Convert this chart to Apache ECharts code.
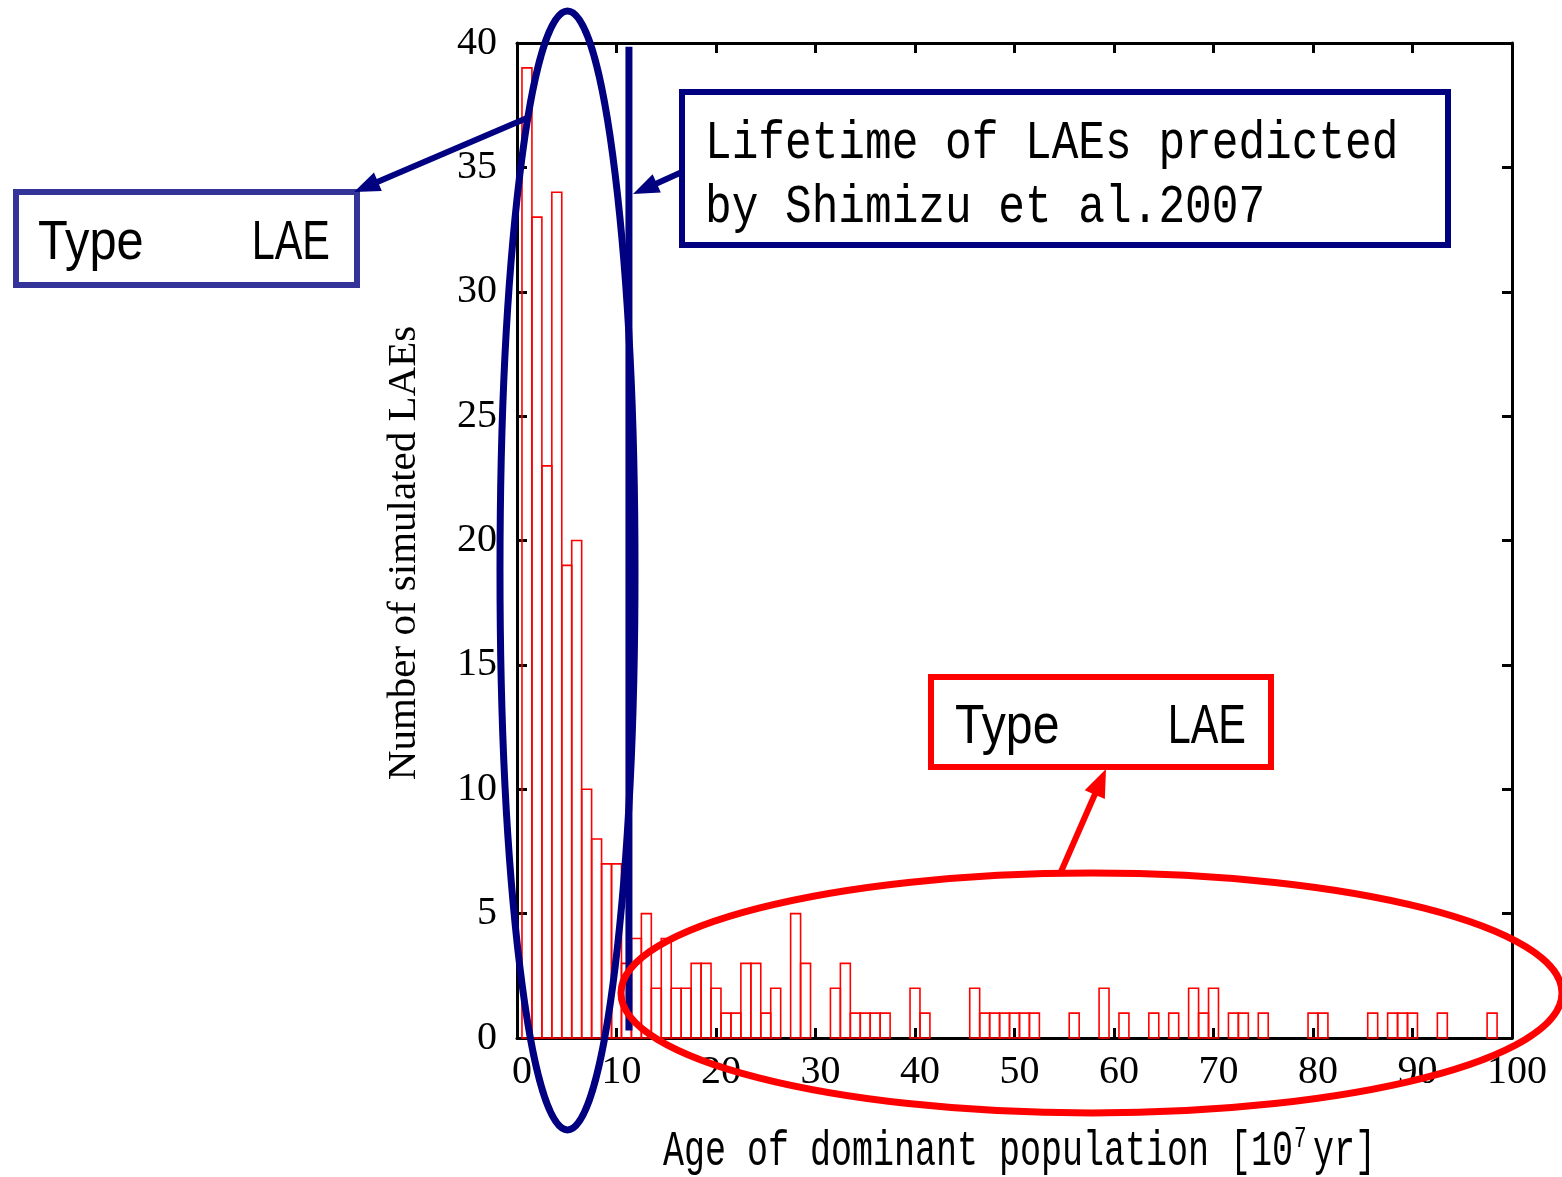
<!DOCTYPE html>
<html><head><meta charset="utf-8">
<script src="https://cdn.jsdelivr.net/npm/echarts@6/dist/echarts.min.js"></script>
<style>html,body{margin:0;padding:0;background:#fff}#c{width:1562px;height:1177px}</style>
</head><body><div id="c"></div>
<script>
// ---- data (bins of width 1, centred on integers) ----
const binCenters = [1,2,3,4,5,6,7,8,9,10,11,12,13,14,15,16,17,18,19,20,21,22,23,24,25,26,28,29,32,33,34,35,36,37,40,41,46,47,48,49,50,51,52,56,59,61,64,66,68,69,70,72,73,75,80,81,86,88,89,90,93,98];
const counts     = [39,33,23,34,19,20,10,8,7,7,3,4,5,2,4,2,2,3,3,2,1,1,3,3,1,2,5,3,2,3,1,1,1,1,2,1,2,1,1,1,1,1,1,1,2,1,1,1,2,1,2,1,1,1,1,1,1,1,1,1,1,1];
const binWidth = 1;
const xRange = [0, 100];
const xStep = 10;
const yRange = [0, 40];
const yStep = 5;
const lifetimeAge = 11.25;          // Shimizu et al. 2007 lifetime marker
const lifetimeSpan = [0.3, 39.85];
const xTitleMain = 'Age of dominant population [10';
const xTitleSup = '7';
const xTitleEnd = 'yr]';
const yTitle = 'Number of simulated LAEs';
const boxLine1 = 'Lifetime of LAEs predicted';
const boxLine2 = 'by Shimizu et al.2007';
const typeWord = 'Type';
const laeWord = 'LAE';

const NAVY = '#000080', BOXBLUE = '#333399', RED = '#ff0000';
const serif = '"Liberation Serif","Times New Roman",serif';
const mono = '"Liberation Mono","DejaVu Sans Mono",monospace';
const sans = '"Liberation Sans",Arial,sans-serif';

const chart = echarts.init(document.getElementById('c'), null, {renderer: 'canvas'});

function arrow(x1, y1, x2, y2, color, w, hl, hw) {
  const dx = x2 - x1, dy = y2 - y1, L = Math.hypot(dx, dy);
  const ux = dx / L, uy = dy / L, px = -uy, py = ux;
  const bx = x2 - ux * hl, by = y2 - uy * hl;
  return [
    {type: 'line', z: 100, shape: {x1: x1, y1: y1, x2: bx + ux * 2, y2: by + uy * 2}, style: {stroke: color, lineWidth: w}},
    {type: 'polygon', z: 100, shape: {points: [[x2, y2], [bx + px * hw / 2, by + py * hw / 2], [bx - px * hw / 2, by - py * hw / 2]]}, style: {fill: color}}
  ];
}
function txt(x, y, s, font, sx, align, color) {
  return {type: 'text', z: 101, x: x, y: y, scaleX: sx || 1,
    style: {text: s, font: font, fill: color || '#000', align: align || 'left', verticalAlign: 'middle'}};
}

const axisCommon = {
  axisLine: {onZero: false, lineStyle: {color: '#000', width: 3}},
  axisTick: {inside: true, length: 10, lineStyle: {color: '#000', width: 3}},
  splitLine: {show: false}
};

const graphics = [
  // blue ellipse around the young population
  {type: 'ellipse', z: 100, shape: {cx: 567.5, cy: 570.5, rx: 67.5, ry: 559.5}, style: {fill: 'none', stroke: NAVY, lineWidth: 7}},
  // red ellipse around the old population
  {type: 'ellipse', z: 100, shape: {cx: 1091.5, cy: 993, rx: 470.5, ry: 120}, style: {fill: 'none', stroke: RED, lineWidth: 7}},
  // left box
  {type: 'rect', z: 100, shape: {x: 16, y: 192, width: 341, height: 93}, style: {fill: '#fff', stroke: BOXBLUE, lineWidth: 6}},
  txt(38, 244, typeWord, '56px ' + sans, 0.87),
  txt(330, 244, laeWord, '56px ' + sans, 0.74, 'right'),
  // navy box
  {type: 'rect', z: 100, shape: {x: 682, y: 92, width: 766, height: 153}, style: {fill: '#fff', stroke: NAVY, lineWidth: 6}},
  txt(705, 144, boxLine1, '54px ' + mono, 0.823),
  txt(705, 208, boxLine2, '54px ' + mono, 0.823),
  // red box
  {type: 'rect', z: 100, shape: {x: 931, y: 677, width: 340, height: 90}, style: {fill: '#fff', stroke: RED, lineWidth: 6}},
  txt(955, 728, typeWord, '56px ' + sans, 0.86),
  txt(1246, 728, laeWord, '56px ' + sans, 0.74, 'right'),
  // axis titles
  txt(663, 1152, xTitleMain, '50px ' + mono, 0.70),
  txt(1294, 1139, xTitleSup, '30px ' + mono, 0.70),
  txt(1313, 1152, xTitleEnd, '50px ' + mono, 0.70),
  {type: 'text', z: 101, x: 404, y: 553, rotation: Math.PI / 2,
    style: {text: yTitle, font: '41px ' + serif, fill: '#000', align: 'center', verticalAlign: 'middle'}}
].concat(
  arrow(527, 118, 354, 192, NAVY, 6, 26, 20),
  arrow(682, 172, 633, 194, NAVY, 6, 26, 20),
  arrow(1060, 874, 1106, 769, RED, 6, 28, 22)
);

chart.setOption({
  animation: false,
  backgroundColor: '#fff',
  grid: {left: 517, right: 50, top: 43, bottom: 139, containLabel: false},
  xAxis: [
    Object.assign({type: 'value', position: 'bottom', min: xRange[0], max: xRange[1], interval: xStep,
      axisLabel: {color: '#000', fontFamily: serif, fontSize: 40, margin: 14, padding: [0, 0, 0, 10]}}, axisCommon),
    Object.assign({type: 'value', position: 'top', min: xRange[0], max: xRange[1], interval: xStep,
      axisLabel: {show: false}}, axisCommon)
  ],
  yAxis: [
    Object.assign({type: 'value', position: 'left', min: yRange[0], max: yRange[1], interval: yStep,
      axisLabel: {color: '#000', fontFamily: serif, fontSize: 40, margin: 20, padding: [5, 0, 0, 0]}}, axisCommon),
    Object.assign({type: 'value', position: 'right', min: yRange[0], max: yRange[1], interval: yStep,
      axisLabel: {show: false}}, axisCommon)
  ],
  series: [
    {
      type: 'custom', xAxisIndex: 0, yAxisIndex: 0, z: 5,
      data: binCenters.map((c, i) => [c, counts[i]]),
      renderItem: function (params, api) {
        const x = api.value(0), y = api.value(1);
        const p0 = api.coord([x - binWidth / 2, y]);
        const p1 = api.coord([x + binWidth / 2, 0]);
        return {type: 'rect', shape: {x: p0[0], y: p0[1], width: p1[0] - p0[0], height: p1[1] - p0[1]},
          style: {fill: 'none', stroke: RED, lineWidth: 1.6}};
      }
    },
    {
      type: 'line', xAxisIndex: 0, yAxisIndex: 0, z: 20, symbol: 'none', silent: true,
      data: [[lifetimeAge, lifetimeSpan[0]], [lifetimeAge, lifetimeSpan[1]]],
      lineStyle: {color: NAVY, width: 7}
    }
  ],
  graphic: graphics
});
</script></body></html>
